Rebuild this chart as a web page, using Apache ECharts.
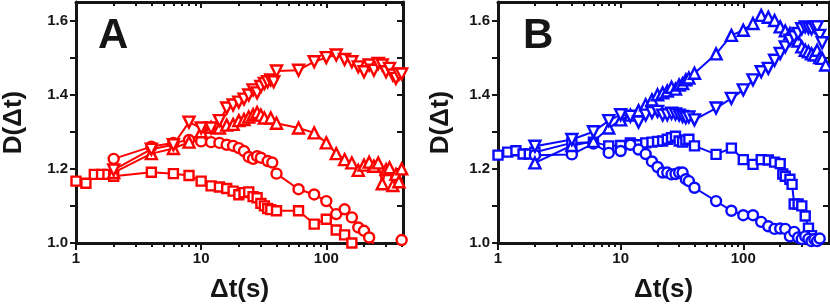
<!DOCTYPE html>
<html>
<head>
<meta charset="utf-8">
<script src="https://cdn.jsdelivr.net/npm/echarts@6/dist/echarts.min.js"></script>
<style>html,body{margin:0;padding:0;background:#fff}#c{width:830px;height:308px}</style>
</head>
<body>
<div id="c"></div>
<script>
// ---------- data ----------
var xMajorTicks = [1, 10, 100];
var xMinorTicks = [2,3,4,5,6,7,8,9,20,30,40,50,60,70,80,90,200,300,400];
var yTickLabels = [1.0, 1.2, 1.4, 1.6];
var yTicks = [1.0, 1.1, 1.2, 1.3, 1.4, 1.5, 1.6];

// Panel A (red)
var A_sq_t = [1,1.2,1.4,1.6,1.8,2,4,6,8,10,12,14,16,18,20,22,24,26,28,30,32,34,36,40,60,80,100,120,140,160,180];
var A_sq_v = [1.167,1.161,1.185,1.185,1.185,1.18,1.191,1.187,1.182,1.167,1.154,1.151,1.147,1.14,1.13,1.136,1.138,1.125,1.122,1.107,1.1,1.093,1.09,1.087,1.087,1.051,1.064,1.035,1.022,1.0,0.985];
var A_ci_t = [2,4,6,8,10,12,14,16,18,20,22,24,26,28,30,34,37,40,60,80,100,120,140,160,180,200,220,240,260,300,400];
var A_ci_v = [1.227,1.26,1.27,1.278,1.274,1.272,1.27,1.265,1.262,1.256,1.248,1.232,1.227,1.234,1.23,1.221,1.217,1.187,1.145,1.131,1.113,1.078,1.091,1.069,1.042,1.033,1.015,0.995,0.98,null,1.008];
var A_up_t = [2,4,6,8,10,12,14,16,18,20,22,24,26,28,30,32,36,40,60,80,100,120,140,160,180,200,220,240,260,280,300,320,340,360,380,400];
var A_up_v = [1.19,1.241,1.255,1.272,1.3,1.312,1.31,1.318,1.32,1.33,1.333,1.34,1.346,1.352,1.345,1.337,1.337,1.323,1.31,1.297,1.27,1.241,1.225,1.216,1.196,1.21,1.218,1.207,1.216,1.16,1.198,1.203,1.155,1.185,1.165,1.2];
var A_dn_t = [2,4,6,8,10,12,14,16,18,20,22,24,26,28,30,32,34,36,38,40,60,80,100,120,140,160,180,200,220,240,260,280,300,320,340,360,380,400];
var A_dn_v = [1.197,1.253,1.265,1.326,1.31,1.31,1.33,1.364,1.372,1.38,1.388,1.399,1.413,1.405,1.422,1.43,1.435,1.44,1.435,1.464,1.466,1.489,1.5,1.507,1.495,1.489,1.475,1.462,1.48,1.466,1.484,1.48,1.462,1.471,1.453,1.444,1.455,1.456];

// Panel B (blue)
var B_sq_t = [1,1.2,1.4,1.6,1.8,2,4,6,8,10,12,14,16,18,20,22,24,26,28,30,32,34,36,40,60,80,100,120,140,160,180,200,210,220,240,250,260,280,300,320,340,360,380];
var B_sq_v = [1.237,1.245,1.249,1.24,1.24,1.245,1.27,1.272,1.262,1.263,1.27,1.265,1.27,1.272,1.274,1.275,1.28,1.284,1.288,1.275,1.272,1.278,1.28,1.262,1.239,1.256,1.225,1.212,1.225,1.224,1.218,1.214,1.186,1.18,1.172,1.158,1.105,1.105,1.1,1.073,1.04,1.02,1.01];
var B_ci_t = [2,4,6,8,10,12,14,16,18,20,22,24,26,28,30,32,34,36,40,60,80,100,120,140,160,180,200,220,240,260,280,300,320,340,360,380,400,420];
var B_ci_v = [1.237,1.239,1.268,1.243,1.248,1.265,1.252,1.24,1.22,1.205,1.19,1.19,1.185,1.186,1.19,1.19,1.172,1.167,1.149,1.113,1.087,1.075,1.075,1.057,1.045,1.038,1.039,1.038,1.018,1.03,1.015,1.011,1.018,1.011,1.005,1.01,1.005,1.012];
var B_up_t = [2,4,6,8,10,12,14,16,18,20,22,24,26,28,30,32,34,36,40,60,80,100,120,140,160,180,200,220,240,260,280,300,320,340,360,380,400,420,440,470];
var B_up_v = [1.216,1.263,1.274,1.31,1.332,1.345,1.357,1.373,1.386,1.4,1.405,1.41,1.42,1.415,1.426,1.43,1.44,1.445,1.458,1.51,1.56,1.574,1.592,1.614,1.609,1.6,1.583,1.572,1.565,1.551,1.545,1.529,1.52,1.516,1.51,1.507,1.52,1.5,1.498,1.48];
var B_dn_t = [2,4,6,8,10,12,14,16,18,20,22,24,26,28,30,32,34,36,40,60,80,100,120,140,160,180,200,220,240,260,280,300,320,340,360,380,400,420,440];
var B_dn_v = [1.261,1.279,1.3,1.33,1.346,1.342,1.326,1.345,1.352,1.355,1.345,1.346,1.35,1.348,1.345,1.341,1.338,1.34,1.332,1.364,1.39,1.413,1.44,1.462,1.471,1.493,1.511,1.529,1.547,1.556,1.565,1.578,1.583,1.58,1.578,1.583,1.583,1.56,1.54];

// ---------- styling ----------
var FONT = 'Liberation Sans';
var INK = '#151515';
var RED = '#ff0000';
var BLUE = '#0a0aff';

function pairs(t, v) {
  return t.map(function (x, i) { return v[i] == null ? [x, '-'] : [x, v[i]]; });
}

function xAxes(gi, max) {
  var base = { type: 'log', logBase: 10, gridIndex: gi, min: 1, max: max, splitLine: { show: false }, minorTick: { show: false } };
  var minors = xMinorTicks.filter(function (v) { return v <= max; });
  return [
    Object.assign({}, base, {
      position: 'bottom',
      axisLine: { show: true, onZero: false, lineStyle: { color: INK, width: 3 } },
      axisTick: { show: true, inside: false, length: 7, customValues: xMajorTicks, lineStyle: { color: INK, width: 2 } },
      axisLabel: { show: true, customValues: xMajorTicks, margin: 8, fontFamily: FONT, fontWeight: 'bold', fontSize: 15, color: INK },
      name: 'Δt(s)', nameLocation: 'middle', nameGap: 34,
      nameTextStyle: { fontFamily: FONT, fontWeight: 'bold', fontSize: 26, color: INK }
    }),
    Object.assign({}, base, {
      position: 'bottom',
      axisLine: { show: false, onZero: false },
      axisTick: { show: true, inside: false, length: 4, customValues: minors, lineStyle: { color: INK, width: 2 } },
      axisLabel: { show: false }
    }),
    Object.assign({}, base, {
      position: 'top',
      axisLine: { show: true, onZero: false, lineStyle: { color: INK, width: 3 } },
      axisTick: { show: true, inside: true, length: 6, customValues: xMajorTicks, lineStyle: { color: INK, width: 2 } },
      axisLabel: { show: false }
    }),
    Object.assign({}, base, {
      position: 'top',
      axisLine: { show: false, onZero: false },
      axisTick: { show: true, inside: true, length: 4, customValues: minors, lineStyle: { color: INK, width: 2 } },
      axisLabel: { show: false }
    })
  ];
}

function yAxes(gi, nameGap) {
  var base = { type: 'value', gridIndex: gi, min: 1.0, max: 1.65, splitLine: { show: false } };
  return [
    Object.assign({}, base, {
      position: 'left',
      axisLine: { show: true, onZero: false, lineStyle: { color: INK, width: 3 } },
      axisTick: { show: true, inside: false, length: 6, customValues: yTicks, lineStyle: { color: INK, width: 2 } },
      axisLabel: { show: true, customValues: yTickLabels, margin: 8, fontFamily: FONT, fontWeight: 'bold', fontSize: 15, color: INK,
        formatter: function (v) { return Number(v).toFixed(1); } },
      name: 'D(Δt)', nameLocation: 'middle', nameGap: nameGap, nameRotate: 90,
      nameTextStyle: { fontFamily: FONT, fontWeight: 'bold', fontSize: 26, color: INK }
    }),
    Object.assign({}, base, {
      position: 'right',
      axisLine: { show: true, onZero: false, lineStyle: { color: INK, width: 3 } },
      axisTick: { show: true, inside: true, length: 6, customValues: yTicks, lineStyle: { color: INK, width: 2 } },
      axisLabel: { show: false }
    })
  ];
}

function ser(t, v, color, symbol, size, rotate, xi, yi) {
  return {
    type: 'line', xAxisIndex: xi, yAxisIndex: yi, data: pairs(t, v),
    symbol: symbol, symbolSize: size, symbolRotate: rotate || 0, showSymbol: true,
    connectNulls: false, clip: true, animation: false,
    lineStyle: { color: color, width: 2 },
    itemStyle: { color: '#ffffff', borderColor: color, borderWidth: 2.4 },
    emphasis: { disabled: true }
  };
}

var option = {
  animation: false,
  backgroundColor: '#ffffff',
  title: [
    { text: 'A', left: 93, top: 10, textStyle: { fontFamily: FONT, fontWeight: 'bold', fontSize: 42, color: INK } },
    { text: 'B', left: 518, top: 10, textStyle: { fontFamily: FONT, fontWeight: 'bold', fontSize: 42, color: INK } }
  ],
  grid: [
    { left: 74, top: 2, width: 329, height: 242 },
    { left: 498, top: 2, width: 331, height: 242 }
  ],
  xAxis: xAxes(0, 410).concat(xAxes(1, 500)),
  yAxis: yAxes(0, 49).concat(yAxes(1, 44)),
  series: [
    ser(A_sq_t, A_sq_v, RED, 'rect', 9, 0, 0, 0),
    ser(A_ci_t, A_ci_v, RED, 'circle', 10, 0, 0, 0),
    ser(A_up_t, A_up_v, RED, 'triangle', 11, 0, 0, 0),
    ser(A_dn_t, A_dn_v, RED, 'triangle', 11, 180, 0, 0),
    ser(B_sq_t, B_sq_v, BLUE, 'rect', 9, 0, 4, 2),
    ser(B_ci_t, B_ci_v, BLUE, 'circle', 10, 0, 4, 2),
    ser(B_up_t, B_up_v, BLUE, 'triangle', 11, 0, 4, 2),
    ser(B_dn_t, B_dn_v, BLUE, 'triangle', 11, 180, 4, 2)
  ]
};

var chart = echarts.init(document.getElementById('c'), null, { renderer: 'canvas' });
chart.setOption(option);
</script>
</body>
</html>
